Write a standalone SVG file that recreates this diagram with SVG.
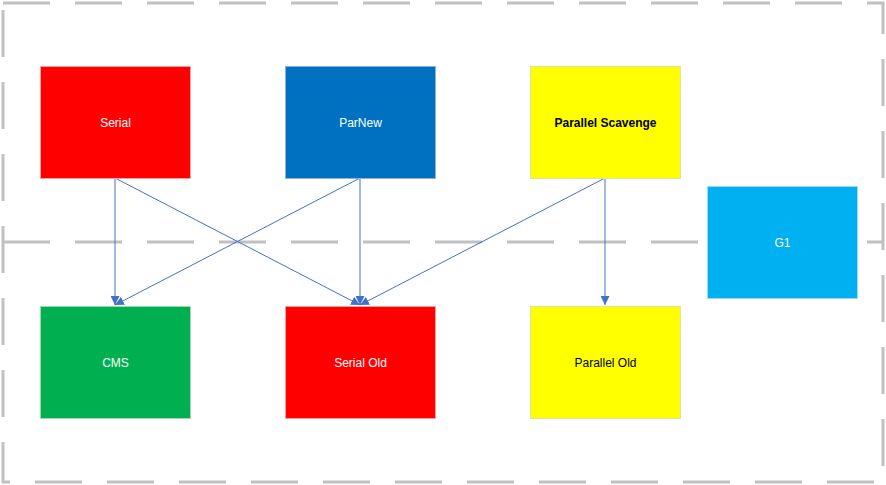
<svg xmlns="http://www.w3.org/2000/svg" width="886" height="485" viewBox="0 0 886 485">
<style>
.bd{fill:none;stroke:#c0c0c0;stroke-width:3;stroke-dasharray:47 25}
.n rect{stroke-width:1}
.t{font-family:"Liberation Sans",Arial,sans-serif;font-size:12px;text-anchor:middle;dominant-baseline:central}
.w{fill:#ffffff}
.k{fill:#000000}
.c{stroke:#4472c4;stroke-width:1;fill:none;marker-end:url(#ah)}
</style>
<defs>
<marker id="ah" viewBox="0 0 10 10" refX="10" refY="5" markerWidth="9" markerHeight="9" markerUnits="userSpaceOnUse" orient="auto">
<path d="M0,0 L10,5 L0,10 Z" fill="#4472c4"/>
</marker>
</defs>
<rect width="886" height="485" fill="#ffffff"/>
<g id="frame">
<rect class="bd" x="3" y="3" width="880" height="479"/>
<line class="bd" x1="3" y1="242" x2="883" y2="242"/>
</g>
<g id="connectors">
<line class="c" x1="115" y1="178" x2="115" y2="305"/>
<line class="c" x1="115" y1="178" x2="360" y2="305"/>
<line class="c" x1="360" y1="178" x2="115" y2="305"/>
<line class="c" x1="360" y1="178" x2="360" y2="305"/>
<line class="c" x1="605" y1="178" x2="360" y2="305"/>
<line class="c" x1="605" y1="178" x2="605" y2="305"/>
</g>
<g id="serial" class="n"><rect x="40.5" y="66.5" width="150" height="112" fill="#ff0000" stroke="#f4a0a0"/><text class="t w" x="115.5" y="122.5">Serial</text></g>
<g id="parnew" class="n"><rect x="285.5" y="66.5" width="150" height="112" fill="#0070c0" stroke="#8fb0d8"/><text class="t w" x="360.5" y="122.5">ParNew</text></g>
<g id="parallel-scavenge" class="n"><rect x="530.5" y="66.5" width="150" height="112" fill="#ffff00" stroke="#e0e0a0"/><text class="t k" x="605.5" y="122.5" font-weight="bold">Parallel Scavenge</text></g>
<g id="g1" class="n"><rect x="707.5" y="186.5" width="150" height="112" fill="#00b0f0" stroke="#a0d8f0"/><text class="t w" x="782.5" y="242.5">G1</text></g>
<g id="cms" class="n"><rect x="40.5" y="306.5" width="150" height="112" fill="#00b050" stroke="#a0d8b0"/><text class="t w" x="115.5" y="362.5">CMS</text></g>
<g id="serial-old" class="n"><rect x="285.5" y="306.5" width="150" height="112" fill="#ff0000" stroke="#f4a0a0"/><text class="t w" x="360.5" y="362.5">Serial Old</text></g>
<g id="parallel-old" class="n"><rect x="530.5" y="306.5" width="150" height="112" fill="#ffff00" stroke="#e0e0a0"/><text class="t k" x="605.5" y="362.5">Parallel Old</text></g>
</svg>
